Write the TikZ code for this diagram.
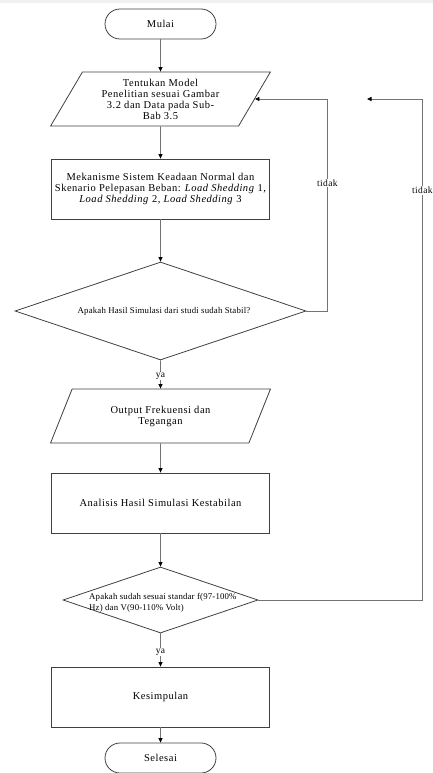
\documentclass[tikz,border=0pt]{standalone}
\usepackage{fontspec}
\setmainfont{Liberation Serif}
\usetikzlibrary{shapes.geometric,arrows.meta}
\begin{document}
\begin{tikzpicture}[x=1pt,y=-1pt,
  shapeline/.style={draw=black!75, line width=0.8pt},
  txt/.style={font=\fontsize{10.5}{11}\selectfont\addfontfeature{LetterSpace=5}},
  term/.style={shapeline, txt, rectangle, rounded corners=15pt, minimum width=111pt, minimum height=30pt, inner sep=0pt},
  iobox/.style={shapeline, txt, trapezium, trapezium left angle=59.3, trapezium right angle=120.7, trapezium stretches=true, minimum width=220pt, minimum height=54pt, inner sep=0pt, align=center},
  procbox/.style={shapeline, txt, rectangle, minimum width=218pt, minimum height=60pt, inner sep=0pt, align=center},
  decision/.style={shapeline, diamond, inner sep=0pt},
  qtxt/.style={font=\fontsize{8.8}{11}\selectfont\addfontfeature{LetterSpace=2}, inner sep=0pt},
  flow/.style={draw=black!55, line width=0.8pt, -{Triangle[length=4.5pt,width=4pt,color=black]}},
  lbl/.style={fill=white, inner sep=1pt, font=\fontsize{9.5}{10}\selectfont\addfontfeature{LetterSpace=4}},
]
\useasboundingbox (0,0) rectangle (433,773);
\fill[black!6] (0,0) rectangle (433,3);

\node[term] (mulai) at (160.5,24) {Mulai};
\node[iobox] (p1) at (160.5,99) {Tentukan Model\\Penelitian sesuai Gambar\\3.2 dan Data pada Sub-\\Bab 3.5};
\node[procbox] (r1) at (160.5,189) {Mekanisme Sistem Keadaan Normal dan\\Skenario Pelepasan Beban: \textit{Load Shedding} 1,\\\textit{Load Shedding} 2, \textit{Load Shedding} 3};
\node[decision, minimum width=291pt, minimum height=98pt] (q1) at (160.5,311) {};
\node[qtxt] (q1t) at (164,311) {Apakah Hasil Simulasi dari studi sudah Stabil?};
\node[iobox] (p2) at (160.5,416) {Output Frekuensi dan\\Tegangan};
\node[procbox] (r2) at (160.5,503) {Analisis Hasil Simulasi Kestabilan};
\node[decision, minimum width=195pt, minimum height=66pt] (q2) at (160.5,600) {};
\node[qtxt, anchor=west, align=left] (q2t) at (89,602.5) {Apakah sudah sesuai standar f(97-100\%\\Hz) dan V(90-110\% Volt)};
\node[procbox] (r3) at (160.5,697) {Kesimpulan};
\node[term] (selesai) at (160.5,758) {Selesai};
\coordinate (fbend) at (367,99);

\draw[flow] (mulai) -- (p1);
\draw[flow] (p1) -- (r1);
\draw[flow] (r1) -- (q1);
\draw[flow] (q1.south) -- node[lbl, pos=0.55] {ya} (p2.north);
\draw[flow] (p2) -- (r2);
\draw[flow] (r2) -- (q2);
\draw[flow] (q2.south) -- node[lbl, pos=0.56] {ya} (r3.north);
\draw[flow] (r3) -- (selesai);
\draw[flow] (q1.east) -- ++(21,0) |- node[lbl, pos=0.302] {tidak} (p1.east);
\draw[flow] (q2.east) -- ++(164,0) |- node[lbl, pos=0.409] {tidak} (fbend);
\end{tikzpicture}
\end{document}
